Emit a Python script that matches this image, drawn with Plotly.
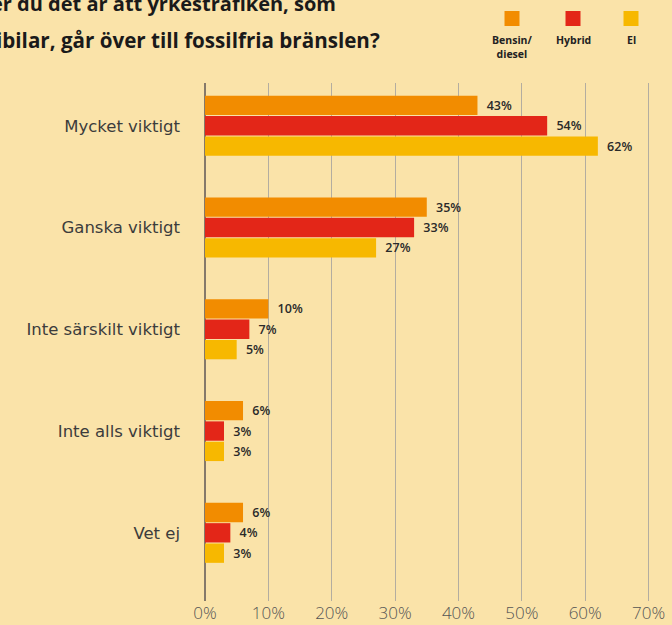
import plotly.graph_objects as go

categories = ["Mycket viktigt", "Ganska viktigt", "Inte särskilt viktigt", "Inte alls viktigt", "Vet ej"]
bensin = [43, 35, 10, 6, 6]
hybrid = [54, 33, 7, 3, 4]
el = [62, 27, 5, 3, 3]
series_names = ["Bensin/<br>diesel", "Hybrid", "El"]
colors = ["#F28C00", "#E32618", "#F7B800"]
x_ticks = [0, 10, 20, 30, 40, 50, 60, 70]

bg = "#FAE3A9"
font_family = "'Open Sans', Lato, sans-serif"

fig = go.Figure()
for name, vals, col in zip(series_names, [bensin, hybrid, el], colors):
    fig.add_trace(go.Bar(
        name=name.replace("<br>", ""), y=categories, x=vals, orientation="h",
        marker=dict(color=col, line=dict(width=0)),
        text=[f"\u2002{v}%" for v in vals], textposition="outside",
        textfont=dict(family=font_family, size=12.5, color="#2a2a2a", weight=600),
        cliponaxis=False, showlegend=False,
    ))

fig.update_layout(
    width=672, height=625,
    paper_bgcolor=bg, plot_bgcolor=bg,
    margin=dict(l=205, r=0, t=83, b=24),
    barmode="group", bargap=0.4, bargroupgap=0.05,
    font=dict(family=font_family),
    xaxis=dict(
        range=[0, 73.7], tickvals=x_ticks, ticktext=[f"{t}%" for t in x_ticks],
        showgrid=True, gridcolor="#b3ada0", gridwidth=1,
        zeroline=True, zerolinecolor="#85796a", zerolinewidth=2,
        tickfont=dict(size=17, color="#555555", weight=300),
        ticks="", showline=False, ticklabelstandoff=0,
    ),
    yaxis=dict(
        range=[4.67, -0.42], tickfont=dict(size=16.5, color="#3c3c3c", family="'DejaVu Sans', sans-serif"),
        ticks="", showgrid=False, ticklabelstandoff=24,
    ),
)

# title (cropped in the original)
fig.add_annotation(text="<b>er du det är att yrkestrafiken, som</b>", xref="paper", yref="paper",
                   x=(338 - 205) / 467, y=1 + (83 - 3) / 518, xanchor="right", yanchor="middle",
                   showarrow=False, font=dict(size=20, color="#1a1a1a", family=font_family))
fig.add_annotation(text="<b>ibilar, går över till fossilfria bränslen?</b>", xref="paper", yref="paper",
                   x=-211 / 467, y=1 + (83 - 40) / 518, xanchor="left", yanchor="middle",
                   showarrow=False, font=dict(size=20.6, color="#1a1a1a", family=font_family))

# legend built by hand: squares above labels
legend_x = [512, 573, 631]
for name, col, px in zip(series_names, colors, legend_x):
    xp = (px - 205) / 467
    fig.add_shape(type="rect", xref="paper", yref="paper",
                  x0=xp - 7.5 / 467, x1=xp + 7.5 / 467,
                  y0=1 + (83 - 26) / 518, y1=1 + (83 - 11) / 518,
                  fillcolor=col, line=dict(width=0))
    fig.add_annotation(text=f"<b>{name}</b>", xref="paper", yref="paper",
                       x=xp, y=1 + (83 - 31) / 518, xanchor="center", yanchor="top",
                       showarrow=False, font=dict(size=10.5, color="#222222", family=font_family))

fig.write_html("out.html", config={"displayModeBar": False},
               post_script="document.body.style.margin='0';document.body.style.background='%s';" % bg)
